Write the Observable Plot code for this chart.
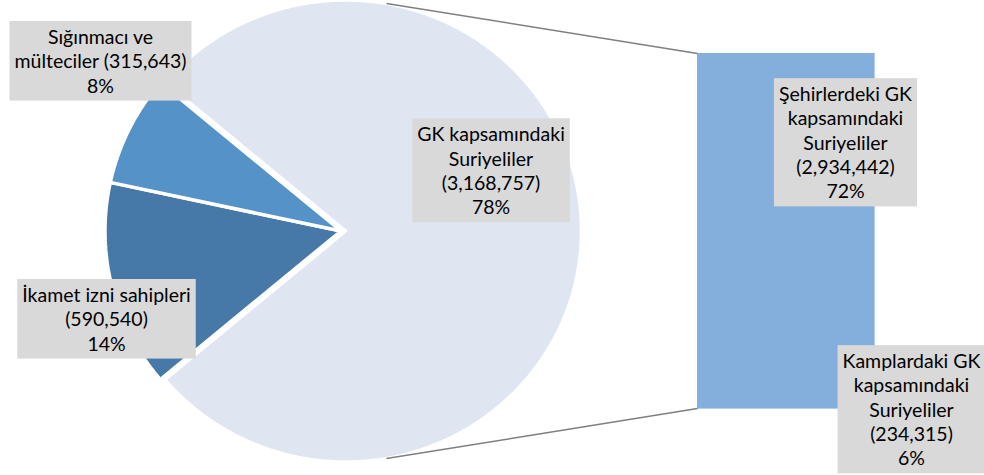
<!DOCTYPE html>
<html>
<head>
<meta charset="utf-8">
<script src="https://cdn.jsdelivr.net/npm/d3@7"></script>
<script src="https://cdn.jsdelivr.net/npm/@observablehq/plot@0.6"></script>
<style>
  html, body { margin: 0; padding: 0; background: #fff; }
  svg { display: block; }
</style>
</head>
<body>
<div id="chart"></div>
<script>
// ---------------- data ----------------
const pieCategories = ["GK kapsamındaki\nSuriyeliler", "İkamet izni sahipleri", "Sığınmacı ve\nmülteciler"];
const pieValues = [3168757, 590540, 315643];
const barCategories = ["Şehirlerdeki GK\nkapsamındaki\nSuriyeliler", "Kamplardaki GK\nkapsamındaki\nSuriyeliler"];
const barValues = [2934442, 234315];

// ---------------- layout & style ----------------
const W = 984, H = 475;
const pieColors = ["#DFE6F2", "#4678A8", "#5592C8"];
const barColors = ["#84AEDB", "#84AEDB"];
const pieGeom = {cx: 340.5, cy: 230.5, rx: 236, ry: 231, explode: 4.5};
const barGeom = {x1: 697, x2: 874, y1: 53, y2: 408};
const connectorAngleDeg = 10;
const pieLabelLayout = [{x: 490.5, y: 169.5, sep: "\n"}, {x: 106, y: 318, sep: "\n"}, {x: 100, y: 60, sep: " "}];
const barLabelLayout = [{x: 845, y: 141.5, sep: "\n"}, {x: 911, y: 408.5, sep: "\n"}];
const FONT = "Lato";
const FONT_SIZE = 19.5;
const LINE_PX = 24.3;

// ---------------- derived ----------------
const total = d3.sum(pieValues);
const fmtN = d3.format(",");
const fmtP = d3.format(".0%");

const start = Math.PI / 2 - (pieValues[0] / total) * Math.PI;
const arcs = d3.pie().sort(null).startAngle(start).endAngle(start + 2 * Math.PI)(pieValues);

const slicePts = [];
arcs.forEach((a, i) => {
  const ox = pieGeom.cx + (i === 0 ? pieGeom.explode : 0);
  const oy = pieGeom.cy;
  const key = pieCategories[i];
  const color = pieColors[i];
  slicePts.push({key, color, x: ox, y: oy});
  const n = Math.max(8, Math.ceil((a.endAngle - a.startAngle) / (Math.PI / 360)));
  for (let k = 0; k <= n; k++) {
    const t = a.startAngle + (a.endAngle - a.startAngle) * k / n;
    slicePts.push({key, color, x: ox + pieGeom.rx * Math.sin(t), y: oy - pieGeom.ry * Math.cos(t)});
  }
  slicePts.push({key, color, x: ox, y: oy});
});

const barTotal = d3.sum(barValues);
let cum = 0;
const barSegs = barValues.map((v, i) => {
  const y1 = barGeom.y1 + (cum / barTotal) * (barGeom.y2 - barGeom.y1);
  cum += v;
  const y2 = barGeom.y1 + (cum / barTotal) * (barGeom.y2 - barGeom.y1);
  return {key: barCategories[i], y1, y2, color: barColors[i]};
});

const bigCx = pieGeom.cx + pieGeom.explode;
const ca = connectorAngleDeg * Math.PI / 180;
const connectors = [
  {x1: bigCx + pieGeom.rx * Math.sin(ca), y1: pieGeom.cy - pieGeom.ry * Math.cos(ca), x2: barGeom.x1, y2: barGeom.y1},
  {x1: bigCx + pieGeom.rx * Math.sin(Math.PI - ca), y1: pieGeom.cy - pieGeom.ry * Math.cos(Math.PI - ca), x2: barGeom.x1, y2: barGeom.y2}
];

const labels = [
  ...pieValues.map((v, i) => ({
    x: pieLabelLayout[i].x, y: pieLabelLayout[i].y,
    text: `${pieCategories[i]}${pieLabelLayout[i].sep}(${fmtN(v)})\n${fmtP(v / total)}`
  })),
  ...barValues.map((v, i) => ({
    x: barLabelLayout[i].x, y: barLabelLayout[i].y,
    text: `${barCategories[i]}${barLabelLayout[i].sep}(${fmtN(v)})\n${fmtP(v / total)}`
  }))
];

const svg = Plot.plot({
  width: W, height: H, margin: 0,
  x: {domain: [0, W], range: [0, W], axis: null},
  y: {domain: [0, H], range: [0, H], axis: null},
  color: {type: "identity"},
  style: {fontFamily: FONT, background: "white", overflow: "hidden"},
  marks: [
    Plot.line(slicePts, {x: "x", y: "y", z: "key", fill: "color", stroke: "white", strokeWidth: 3.5, strokeLinejoin: "miter", curve: "linear"}),
    Plot.rect(barSegs, {x1: () => barGeom.x1, x2: () => barGeom.x2, y1: "y1", y2: "y2", fill: "color", stroke: "color", strokeWidth: 0.6, shapeRendering: "crispEdges"}),
    Plot.link(connectors, {x1: "x1", y1: "y1", x2: "x2", y2: "y2", stroke: "#7F7F7F", strokeWidth: 1.5}),
    Plot.text(labels, {x: "x", y: "y", text: "text", fill: "#000", fontSize: FONT_SIZE, lineHeight: LINE_PX / FONT_SIZE, textAnchor: "middle", lineAnchor: "middle", fontFamily: FONT})
  ]
});
document.getElementById("chart").append(svg);

// label boxes (grey background behind each data label)
const padX = 5, padY = 4;
svg.querySelectorAll('g[aria-label="text"] text').forEach(t => {
  const b = t.getBBox();
  const r = document.createElementNS("http://www.w3.org/2000/svg", "rect");
  r.setAttribute("x", b.x - padX);
  r.setAttribute("y", b.y - padY);
  r.setAttribute("width", b.width + 2 * padX);
  r.setAttribute("height", b.height + 2 * padY);
  r.setAttribute("fill", "#D9D9D9");
  if (t.getAttribute("transform")) r.setAttribute("transform", t.getAttribute("transform"));
  t.parentNode.insertBefore(r, t);
});
</script>
</body>
</html>
